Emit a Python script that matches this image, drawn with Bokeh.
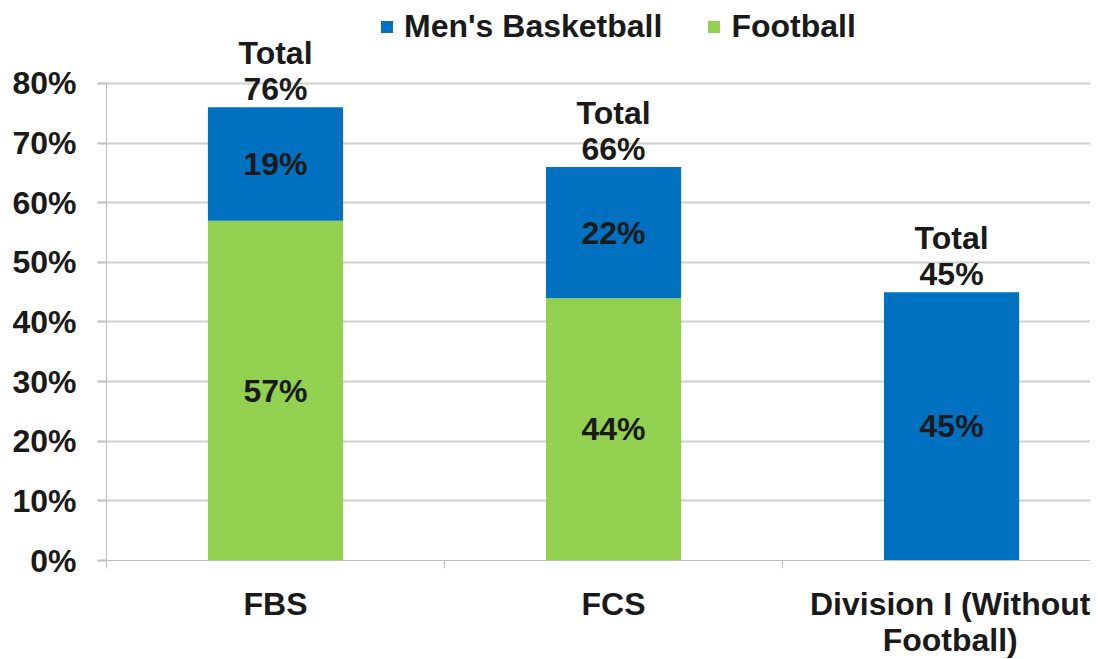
from bokeh.plotting import figure
from bokeh.models import ColumnDataSource, Range1d, FixedTicker, PrintfTickFormatter, Legend, LegendItem
from bokeh.core.properties import value
from bokeh.embed import file_html
from bokeh.resources import INLINE

# ---- data ----
categories = ["FBS", "FCS", "Division I (Without Football)"]
category_labels = ["FBS", "FCS", "Division I (Without\nFootball)"]
football = [57, 44, 0]
basketball = [19, 22, 45]
totals = [76, 66, 45]
y_ticks = [0, 10, 20, 30, 40, 50, 60, 70, 80]

BLUE = "#0070C0"
GREEN = "#92D050"
GRID = "#D0D0D0"
AXIS = "#BFBFBF"
FONT = "Liberation Sans"
FS = "32px"
TXT = "#1a1a1a"

xs = [i + 0.5 for i in range(len(categories))]

src = ColumnDataSource(dict(x=xs, cat=categories, football=football, basketball=basketball))

p = figure(frame_width=984, frame_height=560, output_backend="svg", toolbar_location=None,
           x_range=Range1d(0, 2.911), y_range=Range1d(0, 93.92),
           min_border_left=106, min_border_right=0, min_border_top=0, min_border_bottom=60)
p.outline_line_color = None
p.background_fill_color = "white"
p.border_fill_color = "white"

p.xgrid.visible = False
p.ygrid.grid_line_color = GRID
p.ygrid.grid_line_width = 2
p.ygrid.ticker = FixedTicker(ticks=y_ticks)

# y axis
p.yaxis.ticker = FixedTicker(ticks=y_ticks, minor_ticks=[])
p.yaxis.bounds = (0, 80)
p.yaxis.formatter = PrintfTickFormatter(format="%d%%")
p.yaxis.axis_line_color = AXIS
p.yaxis.axis_line_width = 1
p.yaxis.major_tick_line_color = AXIS
p.yaxis.major_tick_line_width = 2
p.yaxis.major_tick_out = 9
p.yaxis.major_tick_in = 0
p.yaxis.minor_tick_line_color = None
p.yaxis.major_label_standoff = 21
p.yaxis.major_label_text_font = FONT
p.yaxis.major_label_text_font_style = "bold"
p.yaxis.major_label_text_font_size = FS
p.yaxis.major_label_text_color = TXT

# x axis
p.xaxis.ticker = FixedTicker(ticks=xs, minor_ticks=[0, 1, 2, 3])
p.xaxis.major_label_overrides = {x: lab for x, lab in zip(xs, category_labels)}
p.xaxis.axis_line_color = AXIS
p.xaxis.major_tick_line_color = None
p.xaxis.minor_tick_line_color = AXIS
p.xaxis.minor_tick_out = 8
p.xaxis.minor_tick_in = 0
p.xaxis.major_label_standoff = 17
p.xaxis.major_label_text_font = FONT
p.xaxis.major_label_text_font_style = "bold"
p.xaxis.major_label_text_font_size = FS
p.xaxis.major_label_text_color = TXT
p.xaxis.major_label_text_line_height = 1.0

rs = p.vbar_stack(["football", "basketball"], x="x", width=0.4, source=src,
                  color=[GREEN, BLUE], line_color=None)

# segment labels
seg_x, seg_y, seg_t = [], [], []
for x, f, b in zip(xs, football, basketball):
    if f > 0:
        seg_x.append(x); seg_y.append(f / 2); seg_t.append(f"{f}%")
    if b > 0:
        seg_x.append(x); seg_y.append(f + b / 2); seg_t.append(f"{b}%")
p.text(x=seg_x, y=seg_y, text=seg_t, text_align="center", text_baseline="middle",
       text_font=value(FONT), text_font_style="bold", text_font_size=FS, text_color=TXT)

# total labels
p.text(x=xs, y=totals, text=[f"Total\n{t}%" for t in totals], text_align="center",
       text_baseline="bottom", y_offset=0, text_line_height=1.0,
       text_font=value(FONT), text_font_style="bold", text_font_size=FS, text_color=TXT)

legend = Legend(items=[LegendItem(label="Men's Basketball", renderers=[rs[1]]),
                       LegendItem(label="Football", renderers=[rs[0]])],
                orientation="horizontal", location=(273, 515),
                glyph_width=15, glyph_height=15, label_standoff=10, spacing=44,
                padding=0, margin=0, border_line_color=None, background_fill_alpha=0,
                label_text_font=FONT, label_text_font_style="bold",
                label_text_font_size=FS, label_text_color=TXT)
p.add_layout(legend, "center")

open("out.html", "w").write(file_html(p, INLINE))
